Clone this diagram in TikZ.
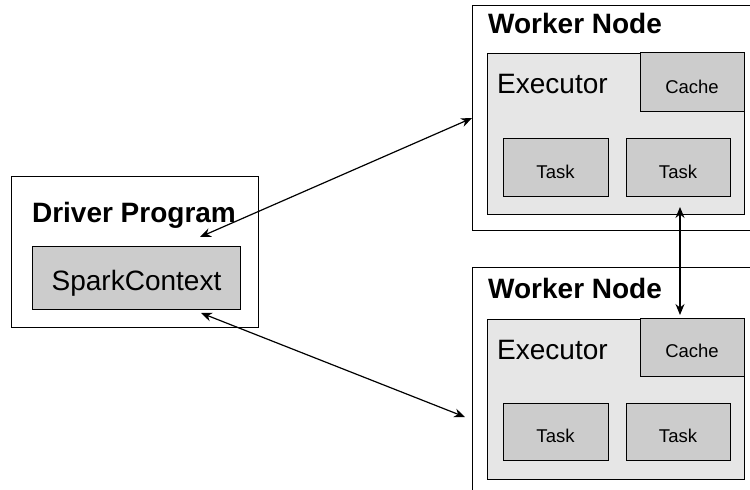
\documentclass[tikz,border=0pt]{standalone}
\usepackage{fontspec}
\setmainfont{Liberation Sans}
\usetikzlibrary{arrows.meta}
\definecolor{execgray}{RGB}{230,230,230}
\definecolor{boxgray}{RGB}{204,204,204}
\begin{document}
\begin{tikzpicture}[x=1pt,y=-1pt,
  outerbox/.style={draw=black, line width=1.2pt, fill=white, anchor=north west, inner sep=0pt},
  execbox/.style={draw=black, line width=1.2pt, fill=execgray, anchor=north west, inner sep=0pt},
  greybox/.style={draw=black, line width=1.2pt, fill=boxgray, anchor=north west, inner sep=0pt},
  title/.style={font=\fontsize{28}{30}\selectfont\bfseries, inner sep=0pt},
  bigtext/.style={font=\fontsize{28}{30}\selectfont, inner sep=0pt},
  smalltext/.style={font=\fontsize{18.5}{20}\selectfont, inner sep=0pt, anchor=base},
  dblarrow/.style={line width=1.2pt, {Stealth[length=11pt,width=9pt]}-{Stealth[length=11pt,width=9pt]}}
]
\useasboundingbox (0,0) rectangle (750,490);
\clip (0,0) rectangle (750,490);
\fill[white] (0,0) rectangle (750,490);

% Driver program
\node[outerbox, minimum width=247pt, minimum height=151pt] (driver) at (11,176) {};
\node[title, anchor=base] (drivertitle) at (134,222) {Driver Program};
\node[greybox, minimum width=208pt, minimum height=63pt] (spark) at (32,246) {};
\node[bigtext, anchor=base] (sparktext) at (136.5,290) {SparkContext};

% Worker 1
\node[outerbox, minimum width=300pt, minimum height=225pt] (w1) at (472,5) {};
\node[title, anchor=base west] (w1title) at (488,33) {Worker Node};
\node[execbox, minimum width=257pt, minimum height=161pt] (exec1) at (487,53) {};
\node[bigtext, anchor=base west] (exec1title) at (497,93) {Executor};
\node[greybox, minimum width=104pt, minimum height=59pt] (cache1) at (640,52) {};
\node[smalltext] (cache1t) at (692,93) {Cache};
\node[greybox, minimum width=105pt, minimum height=58pt] (task1a) at (503,138) {};
\node[smalltext] (task1at) at (555.5,178) {Task};
\node[greybox, minimum width=104pt, minimum height=58pt] (task1b) at (626,138) {};
\node[smalltext] (task1bt) at (678,178) {Task};

% Worker 2
\node[outerbox, minimum width=300pt, minimum height=240pt] (w2) at (472,267) {};
\node[title, anchor=base west] (w2title) at (488,298) {Worker Node};
\node[execbox, minimum width=257pt, minimum height=160pt] (exec2) at (487,319) {};
\node[bigtext, anchor=base west] (exec2title) at (497,359) {Executor};
\node[greybox, minimum width=104pt, minimum height=58pt] (cache2) at (640,318) {};
\node[smalltext] (cache2t) at (692,357) {Cache};
\node[greybox, minimum width=105pt, minimum height=57pt] (task2a) at (503,403) {};
\node[smalltext] (task2at) at (555.5,442) {Task};
\node[greybox, minimum width=104pt, minimum height=57pt] (task2b) at (626,403) {};
\node[smalltext] (task2bt) at (678,442) {Task};

% Connectors
\coordinate (d1) at (200,237);
\coordinate (d2) at (201,313);
\coordinate (w2in) at (465,417);
\coordinate (v1) at (680,207);
\coordinate (v2) at (680,315);
\draw[dblarrow] (d1) -- (w1.west);
\draw[dblarrow] (d2) -- (w2in);
\draw[dblarrow] (v1) -- (v2);
\end{tikzpicture}
\end{document}
